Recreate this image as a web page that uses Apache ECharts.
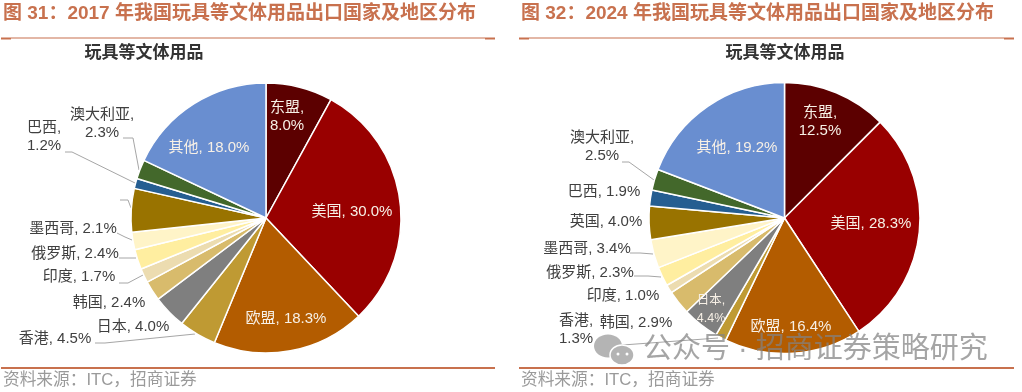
<!DOCTYPE html>
<html>
<head>
<meta charset="utf-8">
<title>玩具等文体用品出口分布</title>
<script src="https://cdn.jsdelivr.net/npm/echarts@6/dist/echarts.min.js"></script>
<style>
	html, body { margin: 0; padding: 0; background: #fff; }
	#chart { width: 1022px; height: 392px; }
</style>
</head>
<body>
<div id="chart"></div>
<script>
//数据
var categories = ['东盟', '美国', '欧盟', '香港', '日本', '韩国', '印度', '俄罗斯', '墨西哥', '英国', '巴西', '澳大利亚', '其他'];
var values2017 = [8.0, 30.0, 18.3, 4.5, 4.0, 2.4, 1.7, 2.4, 2.1, 5.2, 1.2, 2.3, 18.0];
var values2024 = [12.5, 28.3, 16.4, 1.3, 4.4, 2.9, 1.0, 2.3, 3.4, 4.0, 1.9, 2.5, 19.2];
var subTitle = '玩具等文体用品';
var title2017 = '图 31：2017 年我国玩具等文体用品出口国家及地区分布';
var title2024 = '图 32：2024 年我国玩具等文体用品出口国家及地区分布';
var sourceText = '资料来源：ITC，招商证券';
var watermark = '公众号 · 招商证券策略研究';

//样式
var sliceColors = ['#5c0000', '#990000', '#b35c00', '#bf9a33', '#7f7f7f', '#d8bb6c', '#ecdcb0', '#ffeea0', '#fff4c8', '#997300', '#255e91', '#43682b', '#698ed0'];
var fontName = '"Liberation Sans", "Noto Sans CJK SC", sans-serif';
var accent = '#c8714e';

//标签位置：[中心x, 中心y]，按 categories 顺序
var labelSpots2017 = [[287, 117], [352, 212], [286, 319], [55, 339], [133, 327], [109, 303], [79, 277], [75, 254], [73, 229], [100, 200], [44, 137], [102, 124], [209, 148]];
var labelSpots2024 = [[820, 122], [871, 224], [791, 327], [576, 330], [711, 310], [636, 323], [623, 296], [590, 273], [587, 249], [606, 222], [604, 192], [602, 147], [737, 148]];
//引导线
var leaders2017 = {
	'香港': [[95, 343], [105, 343], [195, 334]],
	'印度': [[119, 283], [128, 283], [143, 275]],
	'俄罗斯': [[119, 258], [127, 258], [136, 258]],
	'墨西哥': [[117, 233], [125, 237], [132, 240]],
	'英国': [[120, 200], [128, 200], [131, 208]],
	'巴西': [[65, 152], [72, 152], [135, 183]],
	'澳大利亚': [[123, 138], [133, 138], [139, 170]]
};
var leaders2024 = {
	'香港': [[597, 346], [609, 346], [718, 338]],
	'俄罗斯': [[634, 276], [648, 276], [661, 277]],
	'墨西哥': [[630, 253], [640, 253], [653, 254]],
	'澳大利亚': [[622, 162], [629, 162], [654, 180]]
};
//换行、白字、不显示标签的类别
var breakNames2017 = ['东盟', '巴西', '澳大利亚'];
var breakNames2024 = ['东盟', '香港', '日本', '澳大利亚'];
var whiteNames2017 = ['东盟', '美国', '欧盟', '其他'];
var whiteNames2024 = ['东盟', '美国', '欧盟', '日本', '其他'];
var hiddenNames2017 = ['英国'];
var hiddenNames2024 = [];

//创建一个饼图系列
function makePie(values, center, radius, spots, leaders, breakNames, whiteNames, hiddenNames) {
	var data = [];
	for (var i = 0; i < categories.length; i++) {
		var name = categories[i];
		var isWhite = whiteNames.indexOf(name) >= 0;
		data.push({
			name: name,
			value: values[i],
			label: {
				color: isWhite ? '#f7f0e6' : '#404040',
				fontSize: (name === '日本' && isWhite) ? 12.5 : 15
			},
			labelLine: { show: !!leaders[name] }
		});
	}
	return {
		type: 'pie',
		radius: radius,
		center: center,
		startAngle: 90,
		clockwise: true,
		avoidLabelOverlap: false,
		silent: true,
		animation: false,
		color: sliceColors,
		minShowLabelAngle: 0,
		data: data,
		itemStyle: { borderColor: '#fff', borderWidth: 1.5 },
		label: {
			show: true,
			position: 'outside',
			fontFamily: fontName,
			lineHeight: 18,
			formatter: function(p) {
				if (hiddenNames.indexOf(p.name) >= 0) return ' ';
				var sep = breakNames.indexOf(p.name) >= 0 ? ',\n' : ', ';
				return p.name + sep + p.value.toFixed(1) + '%';
			}
		},
		labelLine: { lineStyle: { color: '#a6a6a6', width: 1 } },
		labelLayout: function(p) {
			var name = categories[p.dataIndex];
			var spot = spots[p.dataIndex];
			var layout = { x: spot[0], y: spot[1], align: 'center', verticalAlign: 'middle' };
			if (leaders[name]) layout.labelLinePoints = leaders[name];
			return layout;
		}
	};
}

//图题、横线、来源
function makePanel(title, left, right, subX) {
	var items = [
		{ type: 'text', x: left + 2, y: 14, style: { text: title, font: 'bold 19px ' + fontName, fill: accent, verticalAlign: 'middle' } },
		{ type: 'text', x: subX, y: 53, style: { text: subTitle, font: 'bold 17px ' + fontName, fill: '#333', align: 'center', verticalAlign: 'middle' } },
		{ type: 'rect', shape: { x: left, y: 37.5, width: right - left, height: 1 }, style: { fill: accent } },
		{ type: 'rect', shape: { x: left, y: 38, width: 10, height: 1.5 }, style: { fill: accent } },
		{ type: 'rect', shape: { x: right - 10, y: 38, width: 10, height: 1.5 }, style: { fill: accent } },
		{ type: 'rect', shape: { x: left, y: 367, width: right - left, height: 2 }, style: { fill: accent } },
		{ type: 'text', x: left + 2, y: 380, style: { text: sourceText, font: '16.7px ' + fontName, fill: '#9a9a9a', verticalAlign: 'middle' } }
	];
	return items;
}

var myChart = echarts.init(document.getElementById('chart'));
var graphics = makePanel(title2017, 1, 495, 144).concat(makePanel(title2024, 519, 1014, 785));
//水印
graphics.push(
	{ type: 'ellipse', z: 50, shape: { cx: 608, cy: 346, rx: 14, ry: 11.5 }, style: { fill: '#b4b4b4' } },
	{ type: 'ellipse', z: 51, shape: { cx: 622, cy: 355, rx: 12, ry: 10 }, style: { fill: '#b4b4b4', stroke: '#fff', lineWidth: 1.5 } },
	{ type: 'circle', z: 52, shape: { cx: 618, cy: 354, r: 1.5 }, style: { fill: '#fff' } },
	{ type: 'circle', z: 52, shape: { cx: 627, cy: 354, r: 1.5 }, style: { fill: '#fff' } },
	{ type: 'text', z: 52, x: 643, y: 350, style: { text: watermark, font: '29px ' + fontName, fill: 'rgba(130,130,130,0.72)', verticalAlign: 'middle' } }
);

myChart.setOption({
	backgroundColor: '#fff',
	animation: false,
	series: [
		makePie(values2017, [266, 218], 135, labelSpots2017, leaders2017, breakNames2017, whiteNames2017, hiddenNames2017),
		makePie(values2024, [784.5, 218], 135.5, labelSpots2024, leaders2024, breakNames2024, whiteNames2024, hiddenNames2024)
	],
	graphic: graphics
});
</script>
</body>
</html>
